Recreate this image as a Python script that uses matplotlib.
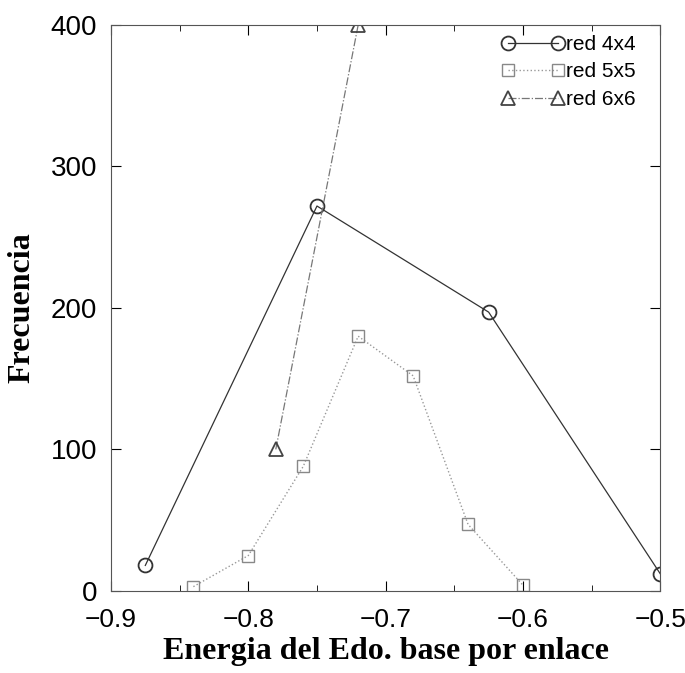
import numpy as np
import matplotlib
matplotlib.use("Agg")
import matplotlib.pyplot as plt
from matplotlib.ticker import MultipleLocator

# datos
x4 = [-0.875, -0.75, -0.625, -0.5]
y4 = [18, 272, 197, 12]

x5 = [-0.84, -0.80, -0.76, -0.72, -0.68, -0.64, -0.60]
y5 = [3, 25, 88, 180, 152, 47, 4]

x6 = [-0.78, -0.72]
y6 = [100, 400]

xticks = [-0.9, -0.8, -0.7, -0.6, -0.5]
xticklabels = ['\u22120.9', '\u22120.8', '\u22120.7', '\u22120.6', '\u22120.5']

fig = plt.figure(figsize=(6.85, 6.73), dpi=100)
ax = fig.add_axes([0.162, 0.122, 0.802, 0.841])

ax.plot(x4, y4, '-', color='#333333', lw=0.9, marker='o', ms=10,
        mfc='none', mec='#333333', mew=1.3, label='red 4x4')
ax.plot(x5, y5, ':', color='#999999', lw=1.0, marker='s', ms=9,
        mfc='none', mec='#888888', mew=1.0, label='red 5x5')
ax.plot(x6, y6, '-.', color='#777777', lw=0.9, marker='^', ms=10,
        mfc='none', mec='#444444', mew=1.3, label='red 6x6')

ax.set_xlim(-0.9, -0.5)
ax.set_ylim(0, 400)
ax.xaxis.set_minor_locator(MultipleLocator(0.05))
ax.yaxis.set_major_locator(MultipleLocator(100))
ax.tick_params(which='both', direction='in', top=True, right=True, labelsize=20)
ax.tick_params(axis='x', pad=12, labelsize=19)
ax.tick_params(axis='y', pad=10)
ax.tick_params(which='major', length=7)
ax.tick_params(which='minor', length=4)
ax.set_xticks(xticks)
ax.set_xticklabels(xticklabels, family='Liberation Sans')
for lab in ax.get_yticklabels():
    lab.set_family('Liberation Sans')
for s in ax.spines.values():
    s.set_color('#555555')
    s.set_linewidth(0.8)

ax.set_xlabel('Energia del Edo. base por enlace', family='Liberation Serif',
              weight='bold', fontsize=23, labelpad=4)
ax.set_ylabel('Frecuencia', family='Liberation Serif',
              weight='bold', fontsize=23, labelpad=10)

leg = ax.legend(loc='upper right', frameon=False, numpoints=2, handlelength=3.0,
                prop={'family': 'Liberation Sans', 'size': 15},
                bbox_to_anchor=(0.99, 1.015), handletextpad=0.1, labelspacing=0.4)

fig.savefig('out.png', dpi=100)
